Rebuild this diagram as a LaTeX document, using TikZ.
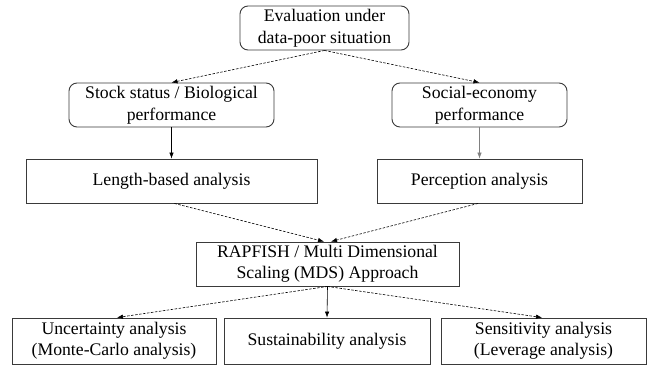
\documentclass[tikz,border=0pt]{standalone}
\usepackage{fontspec}
\setmainfont{Liberation Serif}
\usetikzlibrary{arrows.meta}
\definecolor{edge}{HTML}{3A3A3A}
\tikzset{
  box/.style={draw=edge, line width=0.9pt, inner sep=0pt, align=center, font=\fontsize{17.7}{21.5}\selectfont},
  rbox/.style={box, rounded corners=8pt},
  conn/.style={line width=0.6pt, draw=black, -{Latex[length=6pt,width=4.5pt]}},
  dconn/.style={conn, dash pattern=on 2.5pt off 1.5pt},
}
\begin{document}
\begin{tikzpicture}[x=1pt,y=-1pt]
\useasboundingbox (0,0) rectangle (648,367);
\node[rbox, minimum width=169pt, minimum height=44pt] (eval) at (324.5,28) {Evaluation under\\data-poor situation};
\node[rbox, minimum width=205pt, minimum height=44pt] (stock) at (171.5,105) {Stock status / Biological\\performance};
\node[rbox, minimum width=175pt, minimum height=44pt] (social) at (479.5,105) {Social-economy\\performance};
\node[box, minimum width=291pt, minimum height=44pt] (length) at (171.5,181) {Length-based analysis};
\node[box, minimum width=205pt, minimum height=44pt] (percep) at (479.5,181) {Perception analysis};
\node[box, minimum width=263pt, minimum height=44pt] (rap) at (327.5,264) {RAPFISH / Multi Dimensional\\Scaling (MDS) Approach};
\node[box, minimum width=204pt, minimum height=46pt] (unc) at (114,341) {Uncertainty analysis\\(Monte-Carlo analysis)};
\node[box, minimum width=206pt, minimum height=46pt] (sus) at (327,341) {Sustainability analysis};
\node[box, minimum width=205pt, minimum height=46pt] (sen) at (543.5,341) {Sensitivity analysis\\(Leverage analysis)};

\draw[dconn] (eval.south) -- (stock.north);
\draw[dconn] (eval.south) -- (social.north);
\draw[conn] (stock.south) -- (length.north);
\draw[conn, draw=gray] (social.south) -- (percep.north);
\draw[dconn] ([xshift=3pt]length.south) -- ([xshift=-3.5pt]rap.north);
\draw[dconn] ([xshift=-1.5pt]percep.south) -- ([xshift=3.5pt]rap.north);
\draw[conn] (rap.south) -- (sus.north);
\draw[dconn] (rap.south) -- ([xshift=3pt]unc.north);
\draw[dconn] (rap.south) -- ([xshift=-1.5pt]sen.north);
\end{tikzpicture}
\end{document}
